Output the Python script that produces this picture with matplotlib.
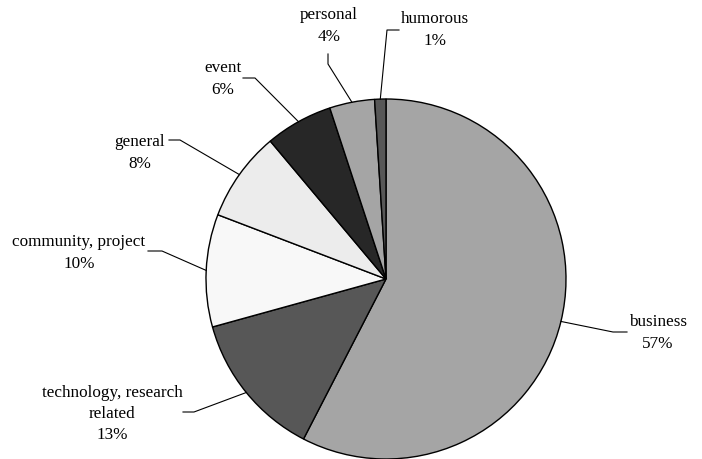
import numpy as np
import matplotlib.pyplot as plt

# 分類ごとの割合 (%)
labels = ["business", "technology, research\nrelated", "community, project",
          "general", "event", "personal", "humorous"]
shares = [57, 13, 10, 8, 6, 4, 1]
colors = ["#a5a5a5", "#575757", "#f8f8f8", "#ececec", "#272727", "#a5a5a5", "#575757"]

# ラベル位置と引き出し線の折れ点 (px, 上が0)
label_xy = [(658, 333), (112, 414), (79, 253), (140, 153), (223, 79), (329, 26), (435, 30)]
elbows = [[(613, 333), (627, 333)],
          [(194, 413), (183, 413)],
          [(162, 252), (148, 252)],
          [(180, 141), (169, 141)],
          [(255, 79), (243, 79)],
          [(328, 65), (328, 55)],
          [(387, 31), (399, 31)]]

W, H = 702, 460
CX, CY, R = 386, 280, 180

plt.rcParams["font.family"] = ["Liberation Serif", "DejaVu Serif"]

fig = plt.figure(figsize=(W / 100, H / 100), dpi=100)
ax = fig.add_axes([0, 0, 1, 1])
ax.set_xlim(0, W)
ax.set_ylim(0, H)
ax.axis("off")

wedges, _ = ax.pie(shares, colors=colors, startangle=90, counterclock=False,
                   center=(CX, H - CY), radius=R, normalize=True,
                   wedgeprops=dict(edgecolor="black", linewidth=1.0))
ax.set_xlim(0, W)
ax.set_ylim(0, H)
ax.set_aspect("equal")

for w, lab, v, (lx, ly), pts in zip(wedges, labels, shares, label_xy, elbows):
    mid = np.deg2rad((w.theta1 + w.theta2) / 2)
    ex = CX + R * np.cos(mid)
    ey = (H - CY) + R * np.sin(mid)
    xs = [ex] + [p[0] for p in pts]
    ys = [ey] + [H - p[1] for p in pts]
    ax.plot(xs, ys, color="black", lw=0.8)
    ax.text(lx, H - ly, f"{lab}\n{v}%", ha="center", va="center",
            fontsize=12.3, linespacing=1.45)

fig.savefig("out.png", dpi=100)
